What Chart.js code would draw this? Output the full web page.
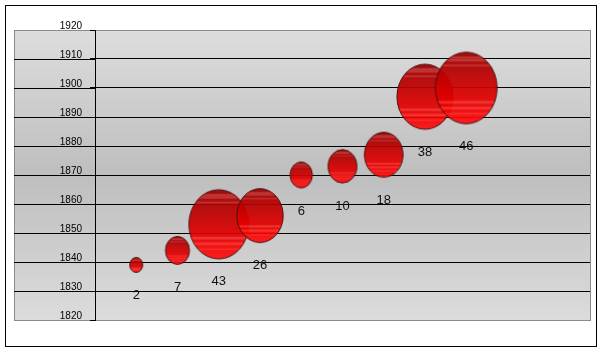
<!DOCTYPE html>
<html>
<head>
<meta charset="utf-8">
<script src="https://cdn.jsdelivr.net/npm/chart.js@4"></script>
<style>
  html, body { margin: 0; padding: 0; background: #fff; }
  #wrap { width: 601px; height: 351px; position: relative; }
</style>
</head>
<body>
<div id="wrap"><canvas id="bubbleChart" width="601" height="351"></canvas></div>
<script>
// chart data
const xPositions = [1, 2, 3, 4, 5, 6, 7, 8, 9];
const yearValues = [1839, 1844, 1853, 1856, 1870, 1873, 1877, 1897, 1900];
const bubbleSizes = [2, 7, 43, 26, 6, 10, 18, 38, 46];
const yMin = 1820, yMax = 1920, yStep = 10;

// build an ellipse image for each bubble (area proportional to size)
function makeBubble(size) {
    const rx = 4.55 * Math.sqrt(size);
    const ry = rx * 1.16;
    const c = document.createElement('canvas');
    c.width = Math.ceil(rx * 2 + 3);
    c.height = Math.ceil(ry * 2 + 3);
    const g = c.getContext('2d');
    const cx = c.width / 2, cy = c.height / 2;
    g.save();
    g.globalAlpha = 0.93;
    g.beginPath();
    g.ellipse(cx, cy, rx, ry, 0, 0, Math.PI * 2);
    g.clip();
    const grad = g.createLinearGradient(0, cy - ry, 0, cy + ry);
    grad.addColorStop(0, '#980000');
    grad.addColorStop(0.35, '#c00000');
    grad.addColorStop(0.75, '#ee0000');
    grad.addColorStop(1, '#ff1010');
    g.fillStyle = grad;
    g.fillRect(0, 0, c.width, c.height);
    // light horizontal streaks
    const bands = [[0.06, 0.07, 0.3], [0.17, 0.03, 0.25], [0.68, 0.04, 0.3], [0.76, 0.04, 0.3], [0.85, 0.02, 0.25]];
    bands.forEach(function (b) {
        g.fillStyle = 'rgba(255,140,140,' + b[2] + ')';
        g.fillRect(0, cy - ry + b[0] * 2 * ry, c.width, Math.max(1, b[1] * 2 * ry));
    });
    g.restore();
    g.beginPath();
    g.ellipse(cx, cy, rx, ry, 0, 0, Math.PI * 2);
    g.strokeStyle = '#4a1010';
    g.lineWidth = 1;
    g.stroke();
    c._ry = ry;
    return c;
}
const bubbleImages = bubbleSizes.map(makeBubble);

const bgPlugin = {
    id: 'bgPlugin',
    beforeDraw(chart) {
        const ctx = chart.ctx;
        const area = chart.chartArea;
        const y = chart.scales.y;
        ctx.save();
        ctx.fillStyle = '#fff';
        ctx.fillRect(0, 0, chart.width, chart.height);
        // outer border
        ctx.strokeStyle = '#000';
        ctx.lineWidth = 1;
        ctx.strokeRect(5.5, 5.5, 591, 341);
        // gray plot background
        const grad = ctx.createLinearGradient(0, area.top, 0, area.bottom);
        grad.addColorStop(0, '#dddddd');
        grad.addColorStop(0.5, '#bebebe');
        grad.addColorStop(1, '#dcdcdc');
        ctx.fillStyle = grad;
        ctx.fillRect(14, area.top, area.right - 14, area.bottom - area.top);
        ctx.strokeStyle = '#8a8a8a';
        ctx.strokeRect(14.5, area.top + 0.5, area.right - 14, area.bottom - area.top);
        // gridline extensions left of the axis
        ctx.strokeStyle = '#000';
        for (let v = yMin + yStep; v < yMax; v += yStep) {
            const py = Math.round(y.getPixelForValue(v)) + 0.5;
            ctx.beginPath();
            ctx.moveTo(14, py);
            ctx.lineTo(area.left, py);
            ctx.stroke();
        }
        ctx.restore();
    }
};

const labelPlugin = {
    id: 'labelPlugin',
    afterDatasetsDraw(chart) {
        const ctx = chart.ctx;
        const meta = chart.getDatasetMeta(0);
        ctx.save();
        ctx.font = '13px "Liberation Sans", Arial, sans-serif';
        ctx.fillStyle = '#111';
        ctx.textAlign = 'center';
        ctx.textBaseline = 'middle';
        meta.data.forEach(function (el, i) {
            ctx.fillText(String(bubbleSizes[i]), el.x, el.y + bubbleImages[i]._ry + 23);
        });
        ctx.restore();
    }
};

const ctx = document.getElementById('bubbleChart').getContext('2d');
const bubbleChart = new Chart(ctx, {
    type: 'bubble',
    data: {
        datasets: [{
            label: 'Size',
            // r kept tiny: the drawn size comes from the bubble images
            data: xPositions.map(function (x, i) {
                return { x: x, y: yearValues[i], r: 0.5 };
            }),
            pointStyle: function (c) { return bubbleImages[c.dataIndex]; },
            clip: false
        }]
    },
    options: {
        responsive: false,
        animation: false,
        events: [],
        layout: { padding: { left: 0, top: 30, right: 11, bottom: 31 } },
        plugins: {
            legend: { display: false },
            tooltip: { enabled: false }
        },
        scales: {
            x: {
                display: false,
                min: 0,
                max: 12
            },
            y: {
                min: yMin,
                max: yMax,
                afterFit: function (scale) { scale.width = 95; },
                ticks: {
                    stepSize: yStep,
                    padding: 8,
                    labelOffset: -4,
                    color: '#000',
                    font: { family: '"Liberation Sans", Arial, sans-serif', size: 10 },
                    callback: function (v) { return String(v); }
                },
                grid: {
                    color: function (c) {
                        const v = c.tick && c.tick.value;
                        return (v === yMin || v === yMax) ? 'rgba(0,0,0,0)' : '#000';
                    },
                    tickColor: '#000',
                    tickLength: 5
                },
                border: { display: true, color: '#000' }
            }
        }
    },
    plugins: [bgPlugin, labelPlugin]
});
</script>
</body>
</html>
